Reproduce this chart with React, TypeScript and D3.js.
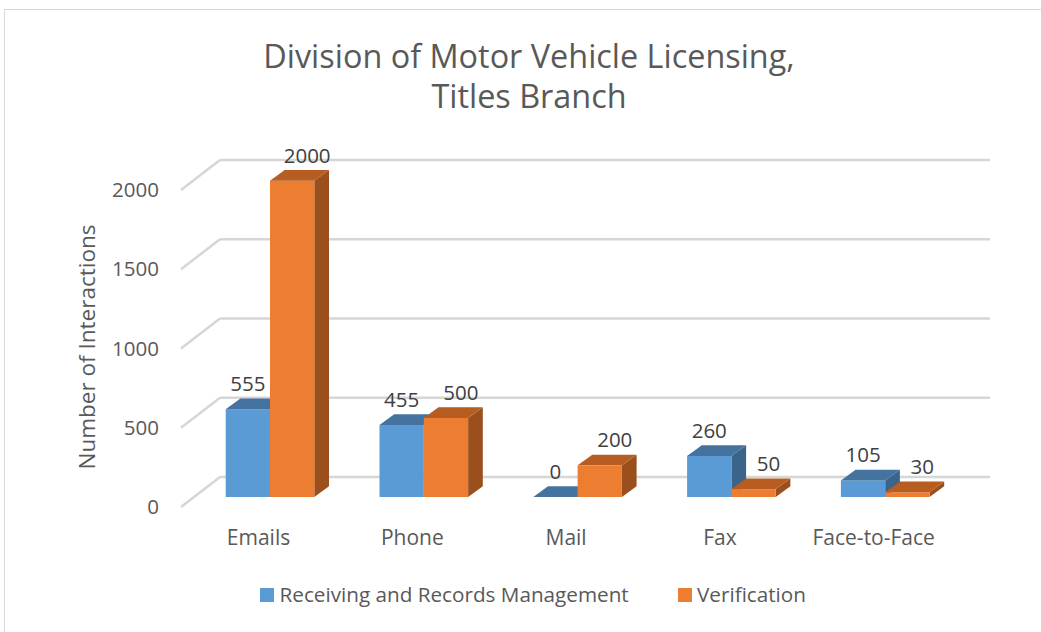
import React from "react";
import * as d3 from "d3";

const categories = ["Emails", "Phone", "Mail", "Fax", "Face-to-Face"];
const receiving = [555, 455, 0, 260, 105];
const verification = [2000, 500, 200, 50, 30];
const yTicks = [0, 500, 1000, 1500, 2000];
const seriesNames = ["Receiving and Records Management", "Verification"];

const FONT = "'Open Sans', 'Noto Sans', sans-serif";
const BLUE = { front: "#5B9BD5", top: "#44739F", side: "#3A6489" };
const ORANGE = { front: "#ED7D31", top: "#B75D22", side: "#9A4F1D" };

export default function App() {
  const W = 1041, H = 632;
  // bar front plane
  const yFront = d3.scaleLinear().domain([0, 2000]).range([497, 180.7]);
  // back wall
  const yBack = d3.scaleLinear().domain([0, 2000]).range([477, 160]);
  const wallX0 = 220, wallX1 = 990, sideDx = -39, sideDy = 30;
  const x = d3.scaleBand<string>().domain(categories).range([193.1, 962.1]).padding(0);
  const barW = 44.3;
  const bdx = 14.7, bdy = -10.7;
  const base = yFront(0);

  const bar = (x0: number, v: number, c: typeof BLUE, key: string) => {
    const yv = yFront(v);
    const top = `M${x0},${yv}L${x0 + barW},${yv}L${x0 + barW + bdx},${yv + bdy}L${x0 + bdx},${yv + bdy}Z`;
    const side = `M${x0 + barW},${yv}L${x0 + barW + bdx},${yv + bdy}L${x0 + barW + bdx},${base + bdy}L${x0 + barW},${base}Z`;
    return (
      <g key={key}>
        {v > 0 && <path d={side} fill={c.side} />}
        {v > 0 && <rect x={x0} y={yv} width={barW} height={base - yv} fill={c.front} />}
        <path d={top} fill={c.top} />
      </g>
    );
  };

  return (
    <svg width={W} height={H} style={{ position: "absolute", left: 0, top: 0, background: "#fff" }}>
      <rect x={4.5} y={9.5} width={1200} height={800} fill="#fff" stroke="#d9d9d9" strokeWidth={1} />
      <text x={529} y={68} textAnchor="middle" fontFamily={FONT} fontSize={32.4} fill="#595959">
        Division of Motor Vehicle Licensing,
      </text>
      <text x={529} y={108} textAnchor="middle" fontFamily={FONT} fontSize={32.4} fill="#595959">
        Titles Branch
      </text>
      {/* gridlines */}
      {yTicks.map((t) => (
        <g key={t}>
          <line x1={wallX0} x2={wallX1} y1={yBack(t)} y2={yBack(t)} stroke="#d6d6d6" strokeWidth={2.5} />
          <line x1={wallX0} x2={wallX0 + sideDx} y1={yBack(t)} y2={yBack(t) + sideDy} stroke="#d6d6d6" strokeWidth={2.5} />
          <text x={159} y={yBack(t) + sideDy + 7} textAnchor="end" fontFamily={FONT} fontSize={20.5} fill="#595959">
            {t}
          </text>
        </g>
      ))}
      <text
        transform={`translate(${95},${347}) rotate(-90)`}
        textAnchor="middle"
        fontFamily={FONT}
        fontSize={22.5}
        fill="#595959"
      >
        Number of Interactions
      </text>
      {/* bars */}
      {categories.map((c, i) => {
        const cx = (x(c) as number) + x.bandwidth() / 2;
        return (
          <g key={c}>
            {bar(cx - barW, receiving[i], BLUE, "b")}
            {bar(cx, verification[i], ORANGE, "o")}
          </g>
        );
      })}
      {/* value labels */}
      {categories.map((c, i) => {
        const cx = (x(c) as number) + x.bandwidth() / 2;
        return (
          <g key={c + "l"} fontFamily={FONT} fontSize={20.5} fill="#404040" textAnchor="middle">
            <text x={cx - barW / 2} y={yFront(receiving[i]) - 18}>{receiving[i]}</text>
            <text x={cx + barW / 2 + 15} y={yFront(verification[i]) - 18}>{verification[i]}</text>
          </g>
        );
      })}
      {/* category labels */}
      {categories.map((c) => {
        const cx = (x(c) as number) + x.bandwidth() / 2;
        return (
          <text key={c + "c"} x={cx - 11.5} y={545} textAnchor="middle" fontFamily={FONT} fontSize={21} fill="#595959">
            {c}
          </text>
        );
      })}
      {/* legend */}
      <rect x={260} y={588} width={14} height={14} fill={BLUE.front} />
      <text x={279.5} y={602} fontFamily={FONT} fontSize={20.7} fill="#595959">{seriesNames[0]}</text>
      <rect x={678} y={588} width={14} height={14} fill={ORANGE.front} />
      <text x={697} y={602} fontFamily={FONT} fontSize={20.7} fill="#595959">{seriesNames[1]}</text>
    </svg>
  );
}
